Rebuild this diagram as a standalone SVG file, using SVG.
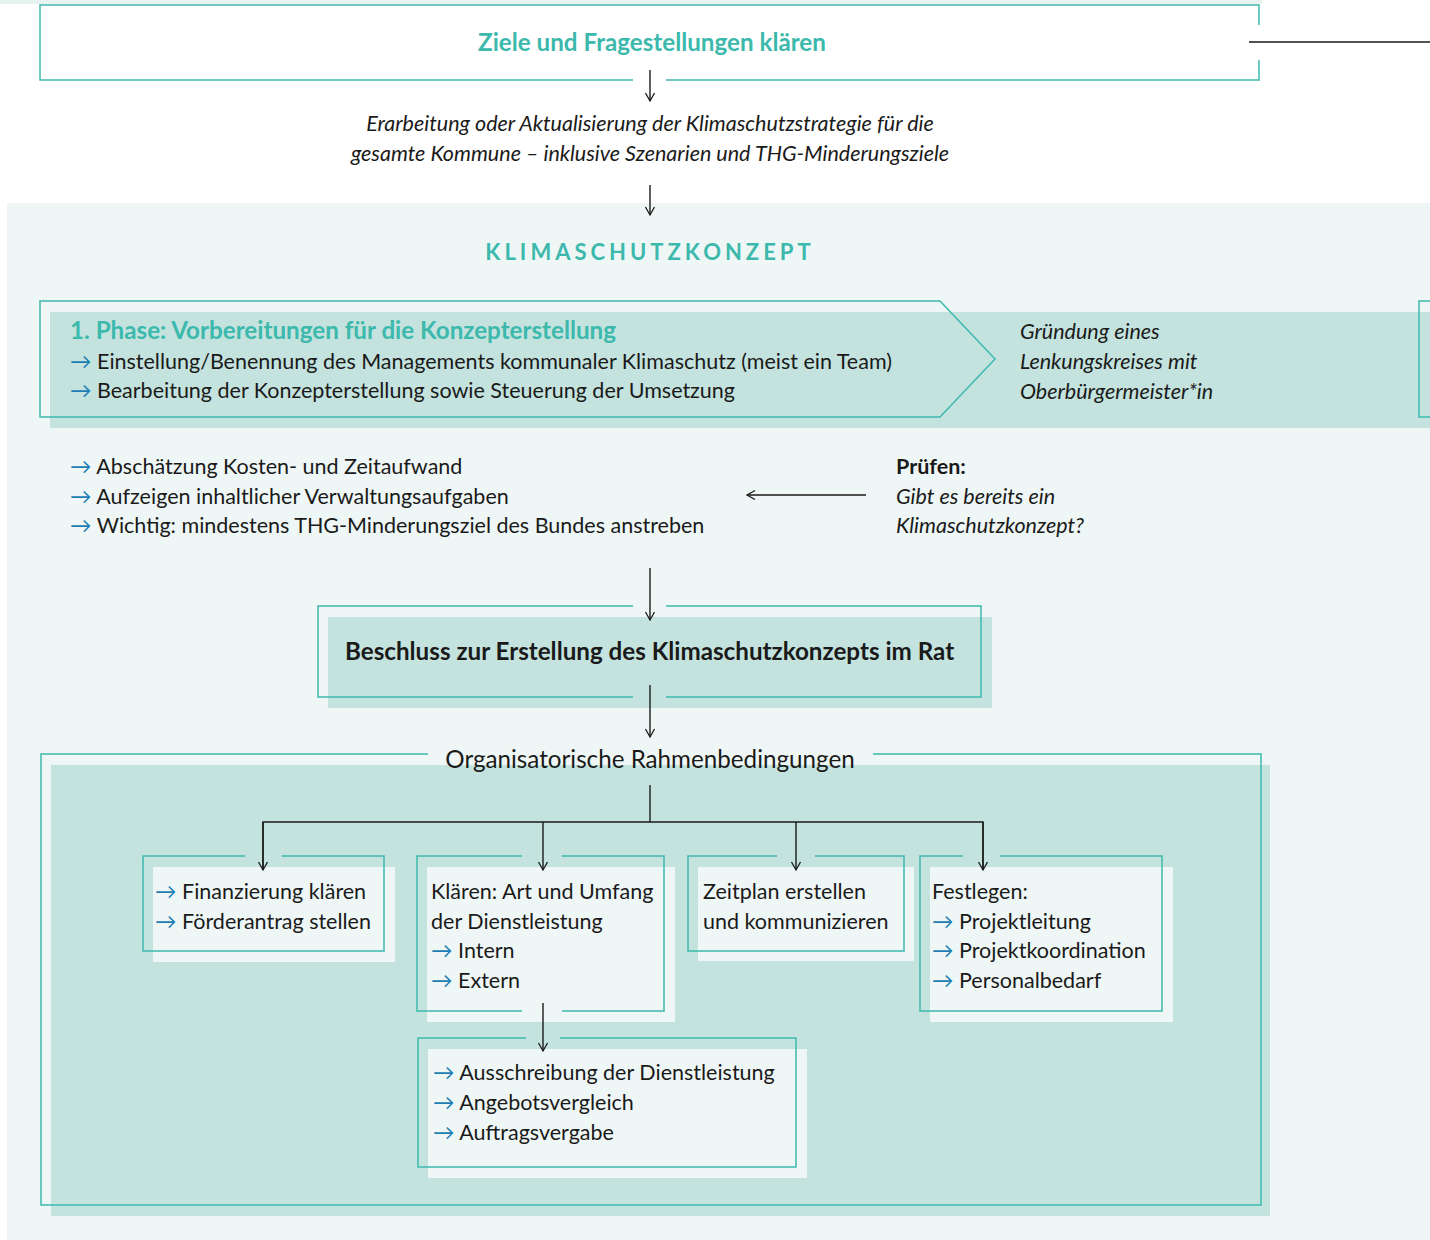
<svg xmlns="http://www.w3.org/2000/svg" width="1430" height="1240" viewBox="0 0 1430 1240">
<style>
text{font-family:Lato,"Liberation Sans",sans-serif;fill:#1a1a1a;font-size:21.5px}
.big{font-size:24.2px}
.cap{font-size:22px;letter-spacing:4px}
.teal{fill:#3cb9ac}
.b{font-weight:bold}
.it{font-style:italic}
.ar{fill:#1b7db3}
.ol{fill:none;stroke:#3cb9ac;stroke-width:1.5}
.sh{fill:#c4e3de}
.in{fill:#eff7f6}
.con{fill:none;stroke:#1a1a1a;stroke-width:1.4}
.bg{fill:#eff7f6}
</style>
<defs>
<marker id="ah" markerUnits="userSpaceOnUse" markerWidth="20" markerHeight="20" refX="0" refY="0" orient="auto" viewBox="-10 -10 20 20" overflow="visible">
<path d="M-8,-4.5 L0,0 L-8,4.5" fill="none" stroke="#1a1a1a" stroke-width="1.3"/>
</marker>
</defs>
<rect x="0" y="0" width="1430" height="1240" fill="#ffffff"/>
<rect x="0" y="0" width="1262" height="4" fill="#e6f3f1"/>
<rect class="bg" x="7" y="203" width="1423" height="1037"/>

<g id="ziele">
<path class="ol" d="M1259,25 V5 H40 V80 H633 M666,80 H1259 V60"/>
<text class="teal b big" x="652" y="51" text-anchor="middle">Ziele und Fragestellungen klären</text>
</g>

<g id="erarbeitung">
<text class="it" x="650" y="131" text-anchor="middle">Erarbeitung oder Aktualisierung der Klimaschutzstrategie für die</text>
<text class="it" x="650" y="161" text-anchor="middle">gesamte Kommune – inklusive Szenarien und THG-Minderungsziele</text>
</g>

<g id="titel">
<text class="teal b cap" x="650" y="260" text-anchor="middle">KLIMASCHUTZKONZEPT</text>
</g>

<g id="phase1">
<rect class="sh" x="50" y="312" width="1380" height="116"/>
<polygon class="ol" points="40,301 940,301 995,359 940,417 40,417"/>
<path class="ol" d="M1430,301 H1419 V417 H1430"/>
<text class="teal b big" x="70" y="339">1. Phase: Vorbereitungen für die Konzepterstellung</text>
<text x="70" y="369"><tspan class="ar">→</tspan> Einstellung/Benennung des Managements kommunaler Klimaschutz (meist ein Team)</text>
<text x="70" y="398"><tspan class="ar">→</tspan> Bearbeitung der Konzepterstellung sowie Steuerung der Umsetzung</text>
</g>

<g id="lenkungskreis">
<text class="it" x="1020" y="339">Gründung eines</text>
<text class="it" x="1020" y="369">Lenkungskreises mit</text>
<text class="it" x="1020" y="399">Oberbürgermeister*in</text>
</g>

<g id="aufgaben">
<text x="70" y="474"><tspan class="ar">→</tspan> Abschätzung Kosten- und Zeitaufwand</text>
<text x="70" y="504"><tspan class="ar">→</tspan> Aufzeigen inhaltlicher Verwaltungsaufgaben</text>
<text x="70" y="533"><tspan class="ar">→</tspan> Wichtig: mindestens THG-Minderungsziel des Bundes anstreben</text>
</g>

<g id="pruefen">
<text class="b" x="896" y="474">Prüfen:</text>
<text class="it" x="896" y="504">Gibt es bereits ein</text>
<text class="it" x="896" y="533">Klimaschutzkonzept?</text>
</g>

<g id="beschluss">
<rect class="sh" x="328" y="617" width="664" height="91"/>
<path class="ol" d="M633,606 H318 V697 H633 M666,697 H981 V606 H666"/>
<text class="b big" x="345" y="660">Beschluss zur Erstellung des Klimaschutzkonzepts im Rat</text>
</g>

<g id="rahmen">
<rect class="sh" x="51" y="765" width="1219" height="451"/>
<path class="ol" d="M428,754 H41 V1205 H1261 V754 H873"/>
<text class="big" x="650" y="768" text-anchor="middle">Organisatorische Rahmenbedingungen</text>
</g>

<g id="finanzierung">
<rect class="in" x="153" y="867" width="242" height="95"/>
<path class="ol" d="M245,856 H143 V951 H384 V856 H282"/>
<text x="155" y="899"><tspan class="ar">→</tspan> Finanzierung klären</text>
<text x="155" y="929"><tspan class="ar">→</tspan> Förderantrag stellen</text>
</g>

<g id="dienstleistung">
<rect class="in" x="427" y="867" width="248" height="155"/>
<path class="ol" d="M522,856 H417 V1011 H522 M562,1011 H664 V856 H562"/>
<text x="431" y="899">Klären: Art und Umfang</text>
<text x="431" y="929">der Dienstleistung</text>
<text x="431" y="958"><tspan class="ar">→</tspan> Intern</text>
<text x="431" y="988"><tspan class="ar">→</tspan> Extern</text>
</g>

<g id="zeitplan">
<rect class="in" x="698" y="867" width="216" height="94"/>
<path class="ol" d="M777,856 H688 V951 H904 V856 H815"/>
<text x="703" y="899">Zeitplan erstellen</text>
<text x="703" y="929">und kommunizieren</text>
</g>

<g id="festlegen">
<rect class="in" x="930" y="867" width="243" height="155"/>
<path class="ol" d="M963,856 H920 V1011 H1162 V856 H1000"/>
<text x="932" y="899">Festlegen:</text>
<text x="932" y="929"><tspan class="ar">→</tspan> Projektleitung</text>
<text x="932" y="958"><tspan class="ar">→</tspan> Projektkoordination</text>
<text x="932" y="988"><tspan class="ar">→</tspan> Personalbedarf</text>
</g>

<g id="ausschreibung">
<rect class="in" x="428" y="1049" width="379" height="129"/>
<path class="ol" d="M526,1038 H418 V1167 H796 V1038 H560"/>
<text x="433" y="1080"><tspan class="ar">→</tspan> Ausschreibung der Dienstleistung</text>
<text x="433" y="1110"><tspan class="ar">→</tspan> Angebotsvergleich</text>
<text x="433" y="1140"><tspan class="ar">→</tspan> Auftragsvergabe</text>
</g>

<g id="connectors">
<line class="con" x1="1249" y1="42" x2="1430" y2="42"/>
<line class="con" x1="650" y1="70" x2="650" y2="101" marker-end="url(#ah)"/>
<line class="con" x1="650" y1="185" x2="650" y2="215" marker-end="url(#ah)"/>
<line class="con" x1="866" y1="495" x2="747" y2="495" marker-end="url(#ah)"/>
<line class="con" x1="650" y1="568" x2="650" y2="620" marker-end="url(#ah)"/>
<line class="con" x1="650" y1="685" x2="650" y2="737" marker-end="url(#ah)"/>
<line class="con" x1="650" y1="785" x2="650" y2="822"/>
<path class="con" d="M263,870 V822 H983 V870"/>
<line class="con" x1="263" y1="822" x2="263" y2="870" marker-end="url(#ah)"/>
<line class="con" x1="543" y1="822" x2="543" y2="870" marker-end="url(#ah)"/>
<line class="con" x1="796" y1="822" x2="796" y2="870" marker-end="url(#ah)"/>
<line class="con" x1="983" y1="822" x2="983" y2="870" marker-end="url(#ah)"/>
<line class="con" x1="543" y1="1003" x2="543" y2="1051" marker-end="url(#ah)"/>
</g>
</svg>
